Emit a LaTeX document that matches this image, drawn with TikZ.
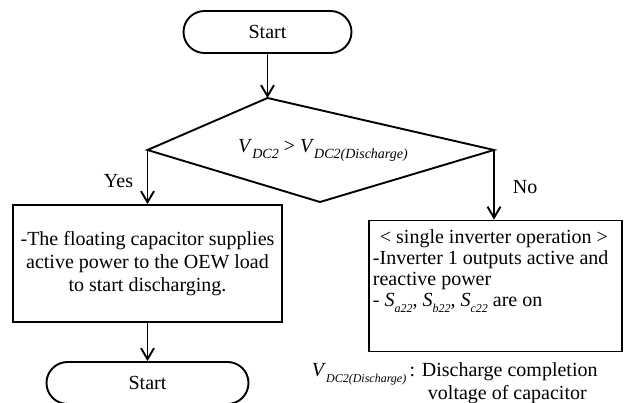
\documentclass[tikz,border=0pt]{standalone}
\usepackage{fontspec}
\setmainfont{Liberation Serif}
\usetikzlibrary{arrows.meta,shapes.misc}
% italic letter with a smaller italic subscript
\newcommand{\vsub}[3][12]{\textit{#2}\raisebox{-0.3em}{\fontsize{#1}{#1}\selectfont\textit{#3}}}

\begin{document}
\begin{tikzpicture}[x=1pt,y=-1pt,line width=1.9pt,
                    >={Straight Barb[length=11pt,width=13pt]},
                    every node/.style={font=\fontsize{20}{23}\selectfont},
                    term/.style={draw,rounded rectangle,inner sep=0pt,
                                 minimum height=42pt},
                    box/.style={draw,rectangle,inner sep=0pt}]
  \useasboundingbox (0,0) rectangle (626,403);

  % terminals and boxes
  \node[term,minimum width=168pt] (start) at (267.5,32) {Start};
  \node[box,minimum width=269pt,minimum height=117pt,align=center]
    (yesbox) at (147.5,263.5)
    {-The floating capacitor supplies\\
     active power to the OEW load\\
     to start discharging.};
  \node[term,minimum width=202pt] (stop) at (147.5,383) {Start};
  \node[box,minimum width=253pt,minimum height=131pt] (nobox) at (495.5,286) {};
  \node[anchor=north west,align=left,inner sep=0pt,
        font=\fontsize{20}{20.8}\selectfont] (notext) at (372,229)
    {\hspace*{7pt}< single inverter operation >\\
     -Inverter 1 outputs active and\\
     reactive power\\
     - \vsub{S}{a22}, \vsub{S}{b22}, \vsub{S}{c22} are on};

  % decision
  \coordinate (dtop) at (267.5,98);
  \coordinate (dright) at (494,150);
  \coordinate (dbot) at (320,202);
  \coordinate (dleft) at (147.5,150);
  \draw[line join=miter] (dtop) -- (dright) -- (dbot) -- (dleft) -- cycle;
  \node (cond) at (323,150)
    {\vsub[14]{V}{DC2} > \vsub[14]{V}{DC2(Discharge)}};

  % connectors
  \draw[->] (start.south) -- (dtop);
  \draw[->] (dleft) -- (dleft |- yesbox.north);
  \draw[->] (dright) -- (dright |- nobox.north);
  \draw[->] (yesbox.south) -- (stop.north);
  \node[anchor=east,inner sep=0pt] (yes) at (134,181) {Yes};
  \node[anchor=west,inner sep=0pt] (no) at (512,187) {No};

  % note
  \node[anchor=north west,align=left,inner sep=0pt] (note) at (311,362)
    {\vsub{V}{DC2(Discharge)}\,: Discharge completion\\
     \hspace*{116pt}voltage of capacitor};
\end{tikzpicture}
\end{document}
